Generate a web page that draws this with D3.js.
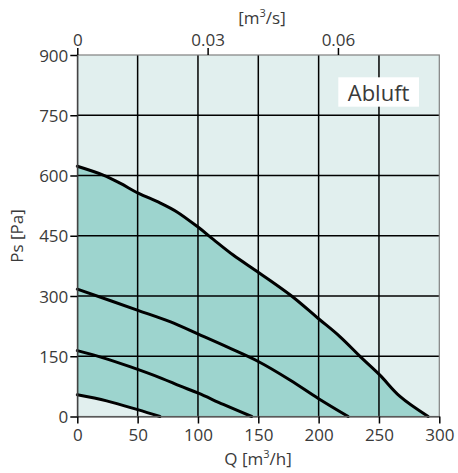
<!DOCTYPE html>
<html><head><meta charset="utf-8">
<script src="https://cdn.jsdelivr.net/npm/d3@7"></script>
<style>body{margin:0;background:#fff}</style>
</head><body>
<svg id="c" width="458" height="473"></svg>
<script>
const qTicks = [0, 50, 100, 150, 200, 250, 300];
const pTicks = [0, 150, 300, 450, 600, 750, 900];
const sTicks = [0, 0.03, 0.06];
const sTickLabels = ["0", "0.03", "0.06"];
const curveTop = [[0,623],[21.5,601],[35.4,581],[50.5,556],[68.5,532],[82.3,510],[100.3,471],[112.7,441],[129.2,402],[150.5,358],[177.6,300],[199.7,244],[217.6,199],[235.6,146],[250.8,103],[267.4,50],[290.8,0]];
const curve2 = [[0,317],[49.7,265],[76.8,236],[100.3,205],[125,172],[150,137],[176.2,91],[199.7,45],[224.5,0]];
const curve3 = [[0,164],[21.5,146],[43.6,124],[69.9,95],[85,76],[100.3,58],[121,30],[144.5,0]];
const curveLow = [[0,54],[24.3,39],[50,17],[68.5,0]];
const label = "Abluft";

const svg = d3.select("#c");
const L = 77.3, R = 439.3, T = 55, B = 416.5;
const x = d3.scaleLinear().domain([0,300]).range([L,R]);
const y = d3.scaleLinear().domain([0,900]).range([B,T]);
const xs = d3.scaleLinear().domain([0, 300/3600]).range([L,R]);
const font = "'Open Sans', 'Noto Sans', sans-serif";
const txt = "#3a3a3a";

svg.append("rect").attr("x",L).attr("y",T).attr("width",R-L).attr("height",B-T).attr("fill","#e1efee");

const line = d3.line().x(d=>x(d[0])).y(d=>y(d[1])).curve(d3.curveCatmullRom.alpha(0.5));
const topPath = line(curveTop);
svg.append("path").attr("d", topPath + "L" + x(0) + "," + y(0) + "Z").attr("fill","#9dd4ce");
svg.append("path").attr("d", line(curveLow) + "L" + x(0) + "," + y(0) + "Z").attr("fill","#e1efee");

// grid
const g = svg.append("g");
qTicks.slice(1,-1).forEach(q=>g.append("line").attr("x1",x(q)).attr("x2",x(q)).attr("y1",T).attr("y2",B).attr("stroke","#000").attr("stroke-width",1.5));
pTicks.slice(1,-1).forEach(p=>g.append("line").attr("x1",L).attr("x2",R).attr("y1",y(p)).attr("y2",y(p)).attr("stroke","#000").attr("stroke-width",1.5));

// curves
[curveTop, curve2, curve3, curveLow].forEach(c=>{
  svg.append("path").attr("d", line(c)).attr("fill","none").attr("stroke","#000").attr("stroke-width",3).attr("stroke-linecap","round");
});

// border
svg.append("rect").attr("x",L).attr("y",T).attr("width",R-L).attr("height",B-T).attr("fill","none").attr("stroke","#808080").attr("stroke-width",1.2);

// axes
const axB = svg.append("g").attr("transform",`translate(0,${B})`).call(d3.axisBottom(x).tickValues(qTicks).tickSize(7).tickSizeOuter(0));
const axL = svg.append("g").attr("transform",`translate(${L},0)`).call(d3.axisLeft(y).tickValues(pTicks).tickSize(7).tickSizeOuter(0));
const axT = svg.append("g").attr("transform",`translate(0,${T})`).call(d3.axisTop(xs).tickValues(sTicks).tickFormat((d,i)=>sTickLabels[i]).tickSize(7).tickSizeOuter(0));
[axB, axL, axT].forEach(a=>{
  a.select(".domain").attr("stroke","#333").attr("stroke-width",1.2);
  a.selectAll(".tick line").attr("stroke","#000").attr("stroke-width",1.5);
  a.selectAll("text").attr("font-family",font).attr("font-size",17).attr("fill",txt);
});
axT.select(".domain").remove();
axB.selectAll("text").attr("dy","0.95em").attr("y",8);
axL.selectAll("text").attr("x",-9).attr("dy","0.36em");
axT.selectAll("text").attr("y",-9);

// labels
function supLabel(px, py, pre, post){
  const t = svg.append("text").attr("font-family",font).attr("font-size",17).attr("fill",txt).attr("text-anchor","middle").attr("x",px).attr("y",py);
  t.append("tspan").text(pre);
  t.append("tspan").attr("font-size",11).attr("dy",-7).text("3");
  t.append("tspan").attr("dy",7).text(post);
}
supLabel(258, 465, "Q [m", "/h]");
supLabel(262, 24, "[m", "/s]");
svg.append("text").attr("transform",`translate(23,236) rotate(-90)`).attr("text-anchor","middle").attr("font-family",font).attr("font-size",17).attr("fill",txt).text("Ps [Pa]");

// legend box
svg.append("rect").attr("x",338.3).attr("y",77.3).attr("width",80.7).attr("height",29.4).attr("fill","#fff");
svg.append("text").attr("x",378.6).attr("y",100.5).attr("text-anchor","middle").attr("font-family",font).attr("font-size",22).attr("fill",txt).text(label);
</script>
</body></html>
